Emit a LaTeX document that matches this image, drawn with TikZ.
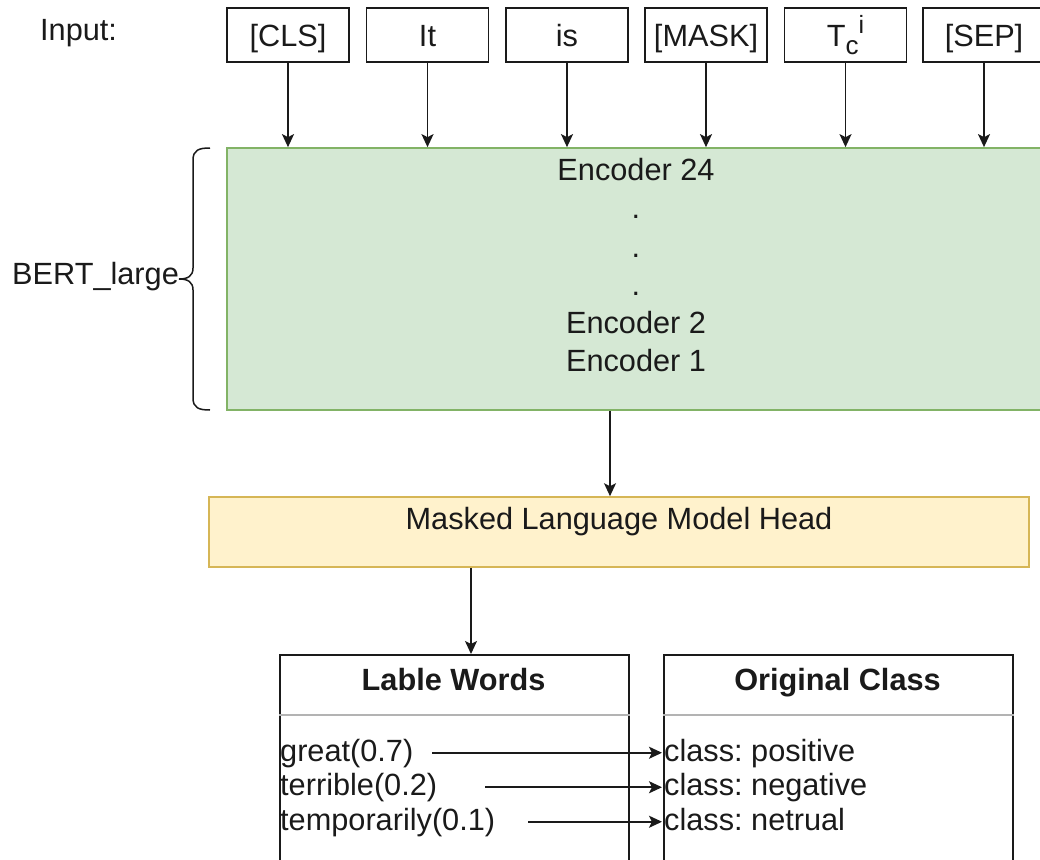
\documentclass[tikz,border=0pt]{standalone}
\usepackage{fontspec}
\setmainfont{Liberation Sans}
\usetikzlibrary{arrows.meta,calc}
\definecolor{encfill}{HTML}{D5E8D4}
\definecolor{encdraw}{HTML}{82B366}
\definecolor{mlmfill}{HTML}{FFF2CC}
\definecolor{mlmdraw}{HTML}{D6B656}
\definecolor{sepgray}{HTML}{B3B3B3}
\definecolor{ink}{HTML}{1A1A1A}
\newcommand{\fsz}{\fontsize{30.7}{38.2}\selectfont}
\frenchspacing
\begin{document}
\begin{tikzpicture}[x=1pt,y=-1pt,
  every node/.style={font=\fsz, text=ink},
  token/.style={draw=ink, line width=1.7pt, minimum width=122pt, minimum height=54pt,
    inner sep=0pt, text height=28pt, text depth=6pt},
  arr/.style={-{Stealth[length=13pt,width=12pt,inset=3pt]}, line width=1.6pt, draw=ink},
  item/.style={anchor=base west, inner sep=0pt, text height=23pt, text depth=6.5pt},
  tablebox/.style={draw=ink, line width=1.6pt, anchor=north west, minimum width=349pt,
    minimum height=250pt, inner sep=0pt},
  header/.style={anchor=base, inner sep=0pt, font=\fsz\bfseries}
]
\useasboundingbox (0,0) rectangle (1040,859);
\clip (0,0) rectangle (1040,859);

% input label and tokens
\node[anchor=base west, inner sep=0pt] (inp) at (40,41) {Input:};
\node[token] (cls)  at (288,35)   {[CLS]};
\node[token] (it)   at (427.5,35) {It};
\node[token] (is)   at (567,35)   {is};
\node[token] (mask) at (706,35)   {[MASK]};
\node[token] (tc)   at (845.5,35) {T\raisebox{-9pt}{\fontsize{26}{26}\selectfont c}\raisebox{13pt}{\fontsize{25}{25}\selectfont i}};
\node[token] (sep)  at (984,35)   {[SEP]};

% encoder stack
\node[draw=encdraw, fill=encfill, line width=1.7pt, minimum width=818pt, minimum height=262pt,
  inner sep=0pt] (enc) at (636,279) {};
\node[align=center, inner sep=0pt] (enctext) at (636,265.3)
  {Encoder 24\\.\\.\\.\\Encoder 2\\Encoder 1};

\foreach \t in {cls,it,is,mask,tc,sep}
  \draw[arr] (\t.south) -- (\t.south |- enc.north);

% brace and label
\node[anchor=base west, inner sep=0pt] (bert) at (12,284) {BERT\_large};
\draw[line width=1.5pt, draw=ink]
  (210,148) .. controls (199,148) and (193,150) .. (193,160) -- (193,268)
  .. controls (193,276) and (188,279) .. (179,279)
  .. controls (188,279) and (193,282) .. (193,290) -- (193,398)
  .. controls (193,408) and (199,410) .. (210,410);

% MLM head
\node[draw=mlmdraw, fill=mlmfill, line width=1.6pt, minimum width=820pt, minimum height=70pt,
  inner sep=0pt, text height=22pt, text depth=27.4pt] (mlm) at (619,532)
  {Masked Language Model Head};

\coordinate (c1) at (610,0);
\coordinate (c2) at (471,0);
\draw[arr] (enc.south -| c1) -- (mlm.north -| c1);

% tables
\node[tablebox] (lw) at (279,654) {};
\node[tablebox] (oc) at (663,654) {};
\node[header] (lwh) at (453.5,690) {Lable Words};
\node[header] (och) at (837.5,690) {Original Class};
\draw[sepgray, line width=1.5pt] (lw.west |- 0,715) -- (lw.east |- 0,715);
\draw[sepgray, line width=1.5pt] (oc.west |- 0,715) -- (oc.east |- 0,715);

\draw[arr] (mlm.south -| c2) -- (lw.north -| c2);

\node[item] (w1) at (280,761)   {great(0.7)};
\node[item] (w2) at (280,795.5) {terrible(0.2)};
\node[item] (w3) at (280,830)   {temporarily(0.1)};
\node[item] (k1) at (664,761)   {class: positive};
\node[item] (k2) at (664,795.5) {class: negative};
\node[item] (k3) at (664,830)   {class: netrual};

\coordinate (a1) at (432,0);
\coordinate (a2) at (485,0);
\coordinate (a3) at (528,0);
\draw[arr, shorten >=2pt] (w1 -| a1) -- (k1.west);
\draw[arr, shorten >=2pt] (w2 -| a2) -- (k2.west);
\draw[arr, shorten >=2pt] (w3 -| a3) -- (k3.west);
\end{tikzpicture}
\end{document}
